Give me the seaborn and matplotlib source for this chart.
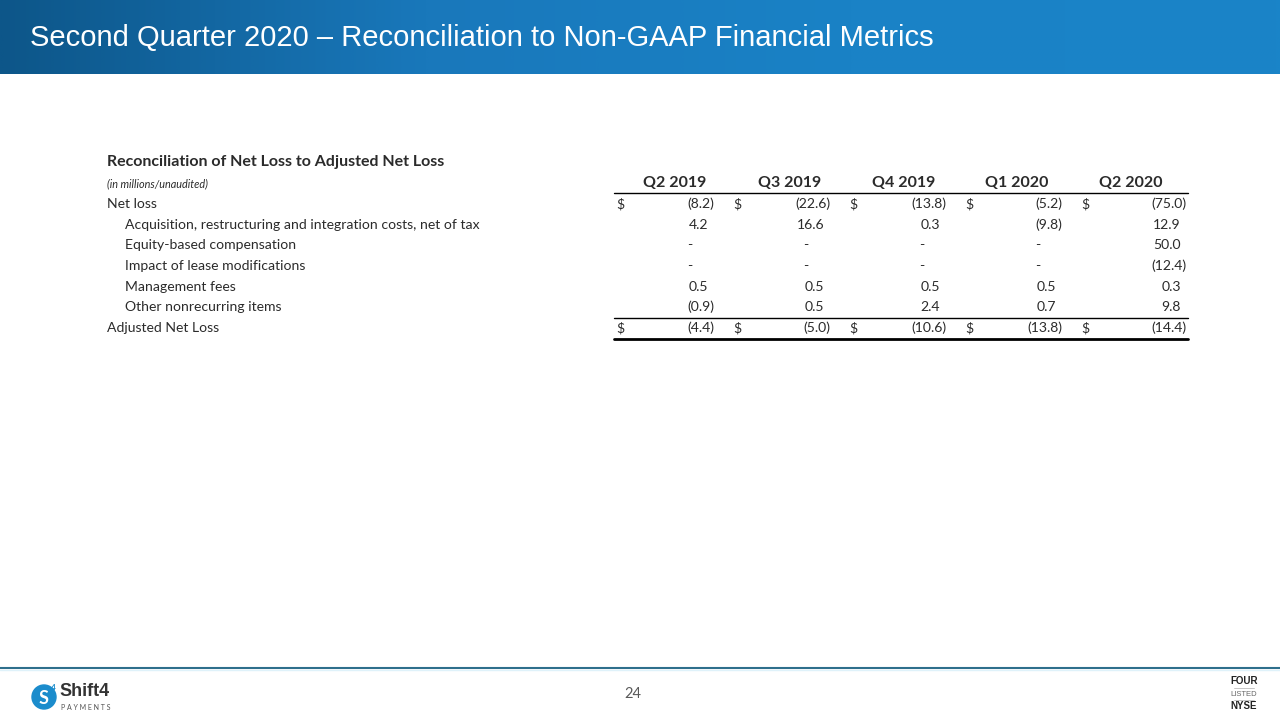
import numpy as np
import seaborn as sns
from matplotlib import pyplot as plt
from matplotlib.colors import LinearSegmentedColormap
from matplotlib.patches import Circle

# table content
quarters = ["Q2 2019", "Q3 2019", "Q4 2019", "Q1 2020", "Q2 2020"]
row_labels = ["Net loss",
              "Acquisition, restructuring and integration costs, net of tax",
              "Equity-based compensation",
              "Impact of lease modifications",
              "Management fees",
              "Other nonrecurring items",
              "Adjusted Net Loss"]
net_loss = [-8.2, -22.6, -13.8, -5.2, -75.0]
acquisition = [4.2, 16.6, 0.3, -9.8, 12.9]
equity_comp = [None, None, None, None, 50.0]
lease_mods = [None, None, None, None, -12.4]
mgmt_fees = [0.5, 0.5, 0.5, 0.5, 0.3]
other_items = [-0.9, 0.5, 2.4, 0.7, 9.8]
adj_net_loss = [-4.4, -5.0, -10.6, -13.8, -14.4]
rows = [net_loss, acquisition, equity_comp, lease_mods, mgmt_fees, other_items, adj_net_loss]
dollar_rows = [0, 6]
indented = [1, 2, 3, 4, 5]

sns.set_theme(style="white")
plt.rcParams['font.family'] = ['Lato', 'DejaVu Sans']

fig = plt.figure(figsize=(12.8, 7.2), dpi=100)
ax = fig.add_axes([0, 0, 1, 1])
ax.set_xlim(0, 1280)
ax.set_ylim(720, 0)
ax.axis('off')

# header band
cmap = LinearSegmentedColormap.from_list('hdr', ['#0d5689', '#1978bb', '#1a82c6', '#1a84c8'])
grad = np.linspace(0, 1, 512).reshape(1, -1)
ax.imshow(grad, cmap=cmap, extent=[0, 1280, 74, 0], aspect='auto', zorder=0)
ax.text(30, 38, "Second Quarter 2020 \u2013 Reconciliation to Non-GAAP Financial Metrics",
        color='white', fontsize=21, family=['Liberation Sans', 'DejaVu Sans'],
        va='center', ha='left')

txt = '#2b2b2b'
# table titles
ax.text(107, 162, "Reconciliation of Net Loss to Adjusted Net Loss", fontsize=11.5,
        fontweight='bold', color=txt, va='center')
ax.text(107, 184, "(in millions/unaudited)", fontsize=7.8, style='italic', color=txt, va='center')

dollar_x = [620, 737, 853, 969, 1085]
right_x = [714, 830, 946, 1062, 1187]
head_x = [675, 790, 904, 1017, 1131]
row_y = [204, 225, 245, 266, 287, 307, 328]

for q, hx in zip(quarters, head_x):
    ax.text(hx, 183, q, fontsize=11.5, fontweight='bold', color=txt, ha='center', va='center')

for i, (label, vals) in enumerate(zip(row_labels, rows)):
    y = row_y[i]
    lx = 125 if i in indented else 107
    ax.text(lx, y, label, fontsize=10.1, color=txt, va='center')
    for j, v in enumerate(vals):
        if i in dollar_rows:
            ax.text(dollar_x[j], y, "$", fontsize=10.1, color=txt, ha='center', va='center')
        if v is None:
            ax.text(right_x[j] - 24, y, "-", fontsize=10.1, color=txt, ha='center', va='center')
        elif v < 0:
            ax.text(right_x[j], y, "(%.1f)" % abs(v), fontsize=10.1, color=txt, ha='right', va='center')
        else:
            ax.text(right_x[j] - 6, y, "%.1f" % v, fontsize=10.1, color=txt, ha='right', va='center')

ax.plot([614, 1188], [192.5, 192.5], color='black', lw=1)
ax.plot([614, 1188], [318, 318], color='black', lw=1)
ax.plot([614, 1188], [339, 339], color='black', lw=2)

# footer
ax.plot([0, 1280], [668, 668], color='#2e6f8c', lw=1.5)
ax.plot([0, 1280], [670, 670], color='#dff2fa', lw=1)
ax.text(633, 694, "24", fontsize=10.5, color='#595959', ha='center', va='center')

# Shift4 logo
ax.add_patch(Circle((44, 697), 12, color='#1b8ccc', zorder=3))
ax.text(44, 698, "S", fontsize=13, fontweight='bold', color='white', ha='center', va='center', zorder=4)
ax.text(53, 687, "4", fontsize=6, fontweight='bold', color='#1b8ccc', ha='center', va='center', zorder=4)
ax.text(59, 692, "Shift4", fontsize=13, fontweight='bold', color='#333333', va='center',
        family=['Liberation Sans Narrow', 'Liberation Sans', 'DejaVu Sans'])
ax.text(61, 707, "P A Y M E N T S", fontsize=5, color='#555555', va='center')

# NYSE badge
ax.text(1244, 681, "FOUR", fontsize=7, fontweight='bold', color='#222222', ha='center', va='center',
        family=['Liberation Sans', 'DejaVu Sans'])
ax.plot([1234, 1254], [687.5, 687.5], color='#bbbbbb', lw=0.6)
ax.text(1244, 694, "LISTED", fontsize=5.5, color='#666666', ha='center', va='center',
        family=['Liberation Sans', 'DejaVu Sans'])
ax.plot([1234, 1254], [700, 700], color='#bbbbbb', lw=0.6)
ax.text(1244, 706, "NYSE", fontsize=7, fontweight='bold', color='#222222', ha='center', va='center',
        family=['Liberation Sans', 'DejaVu Sans'])

fig.savefig('out.png', dpi=100)
